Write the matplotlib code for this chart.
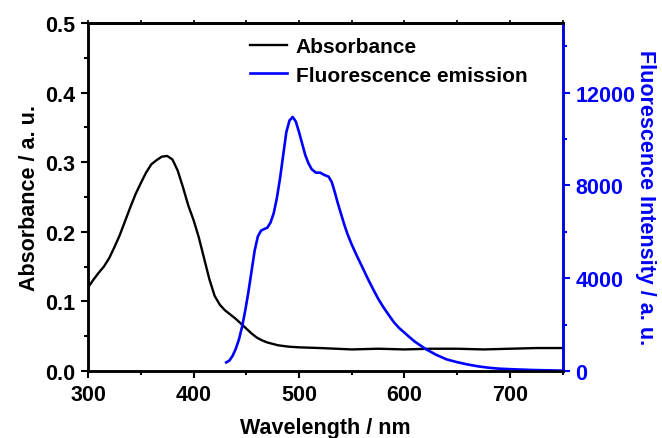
import matplotlib
matplotlib.use("Agg")
import matplotlib.pyplot as plt
from matplotlib.ticker import MultipleLocator, FormatStrFormatter, NullFormatter

# absorbance spectrum
abs_wl = [300, 305, 310, 315, 320, 325, 330, 335, 340, 345, 350, 355, 360, 365,
          370, 375, 380, 385, 390, 395, 400, 405, 410, 415, 420, 425, 430, 435,
          440, 445, 450, 455, 460, 465, 470, 480, 490, 500, 520, 550, 575, 600,
          625, 650, 675, 700, 725, 750]
absorbance = [0.120, 0.131, 0.141, 0.150, 0.162, 0.178, 0.195, 0.215, 0.235,
              0.254, 0.270, 0.285, 0.297, 0.303, 0.308, 0.309, 0.304, 0.288,
              0.264, 0.238, 0.217, 0.192, 0.162, 0.132, 0.108, 0.095, 0.087,
              0.081, 0.075, 0.068, 0.061, 0.054, 0.048, 0.044, 0.041, 0.037,
              0.035, 0.034, 0.033, 0.031, 0.032, 0.031, 0.032, 0.032, 0.031,
              0.032, 0.033, 0.033]

# fluorescence emission spectrum
fl_wl = [431, 434, 437, 440, 443, 446, 449, 452, 455, 458, 461, 464, 467, 470,
         473, 476, 479, 482, 485, 488, 491, 494, 497, 500, 503, 506, 509, 512,
         516, 520, 524, 528, 531, 534, 537, 540, 543, 546, 550, 555, 560, 565,
         570, 575, 580, 585, 590, 595, 600, 605, 610, 620, 630, 640, 650, 660,
         670, 680, 690, 700, 720, 750]
fluorescence = [370, 450, 650, 950, 1350, 1900, 2600, 3400, 4300, 5200, 5800,
                6050, 6120, 6180, 6400, 6800, 7450, 8300, 9300, 10300, 10800,
                10950, 10750, 10300, 9800, 9300, 8950, 8700, 8550, 8550, 8450,
                8380, 8150, 7700, 7200, 6750, 6300, 5900, 5450, 4950, 4480,
                4000, 3550, 3120, 2750, 2420, 2100, 1850, 1650, 1450, 1260,
                950, 700, 500, 380, 280, 200, 140, 100, 80, 45, 15]

plt.rcParams['font.family'] = ['Liberation Sans', 'DejaVu Sans']
plt.rcParams['font.weight'] = 'bold'
plt.rcParams['axes.labelweight'] = 'bold'

fig = plt.figure(figsize=(6.62, 4.39), dpi=100)
ax = fig.add_axes([0.133, 0.1526, 0.717, 0.7927])
ax2 = ax.twinx()

l1, = ax.plot(abs_wl, absorbance, color='black', lw=1.7, label='Absorbance')
l2, = ax2.plot(fl_wl, fluorescence, color='blue', lw=1.9,
               label='Fluorescence emission')

ax.set_xlim(300, 750)
ax.set_ylim(0, 0.5)
ax2.set_ylim(0, 15000)

ax.xaxis.set_major_locator(MultipleLocator(100))
ax.xaxis.set_minor_locator(MultipleLocator(50))
ax.yaxis.set_major_locator(MultipleLocator(0.1))
ax.yaxis.set_minor_locator(MultipleLocator(0.05))
ax.yaxis.set_major_formatter(FormatStrFormatter('%.1f'))
ax2.yaxis.set_major_locator(MultipleLocator(4000))
ax2.yaxis.set_minor_locator(MultipleLocator(2000))

ax.tick_params(axis='both', which='major', direction='out', length=5, width=1.5,
               labelsize=15.5, pad=4)
ax.tick_params(axis='both', which='minor', direction='out', length=3, width=1.5)
ax2.tick_params(axis='y', which='major', direction='out', length=5, width=1.5,
                colors='blue', labelsize=15.5, pad=4)
ax2.tick_params(axis='y', which='minor', direction='out', length=3, width=1.5,
                colors='blue')

# small mirror ticks on the top edge
top = ax.secondary_xaxis('top')
top.xaxis.set_major_locator(MultipleLocator(50))
top.xaxis.set_major_formatter(NullFormatter())
top.tick_params(direction='out', length=2.5, width=1.2)
top.spines['top'].set_linewidth(1.8)

for sp in ax.spines.values():
    sp.set_linewidth(1.8)
for sp in ax2.spines.values():
    sp.set_linewidth(1.8)
ax2.spines['right'].set_color('blue')

ax.set_xlabel('Wavelength / nm', fontsize=15.5, labelpad=9)
ax.set_ylabel('Absorbance / a. u.', fontsize=15.5, labelpad=4)
ax2.set_ylabel('Fluorescence Intensity / a. u.', fontsize=15.5, color='blue',
               rotation=270, labelpad=15)

ax.legend([l1, l2], ['Absorbance', 'Fluorescence emission'], loc='upper left',
          bbox_to_anchor=(0.3236, 0.983), borderaxespad=0, frameon=False,
          fontsize=15, handlelength=1.8, handletextpad=0.4, labelspacing=0.45)

fig.savefig('out.png', dpi=100)
